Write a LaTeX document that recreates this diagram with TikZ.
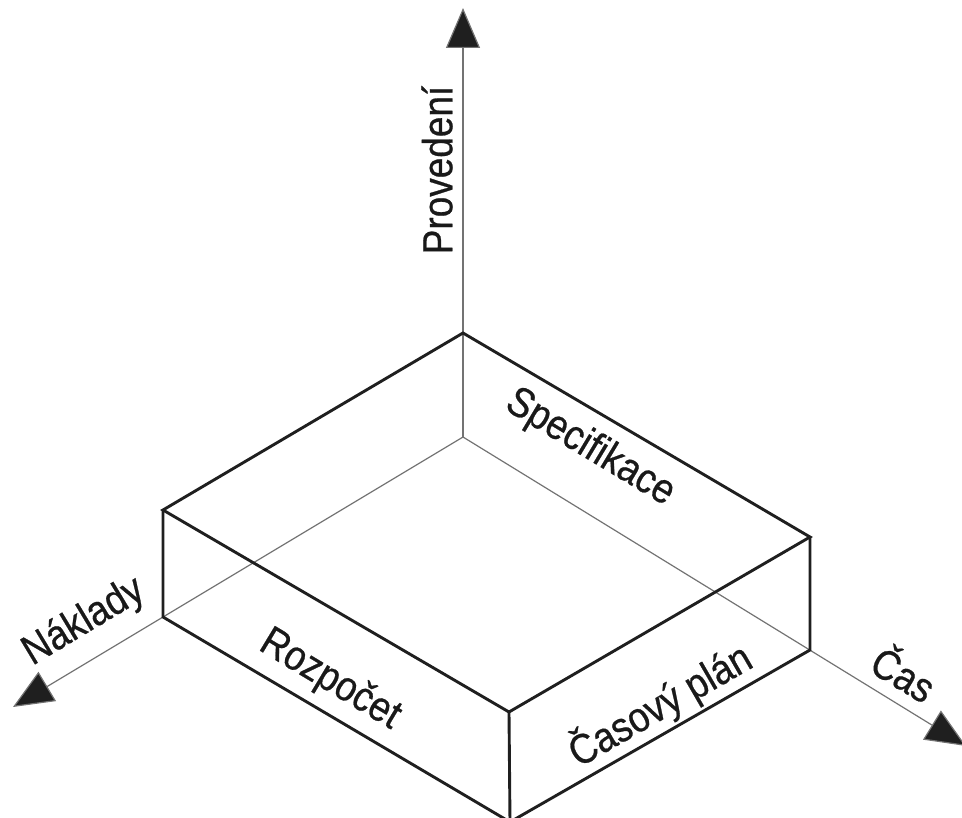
\documentclass[tikz,border=0pt]{standalone}
\usepackage{fontspec}
\setmainfont{Liberation Sans}[FakeStretch=0.88,FakeBold=0.6]
\usetikzlibrary{arrows.meta}
\begin{document}
\begin{tikzpicture}[x=1pt,y=-1pt,
  edge/.style={line width=2.9pt, draw=black!88, line join=miter, line cap=round},
  axis/.style={line width=1.2pt, draw=black!55, -{Triangle[length=40pt,width=34pt,fill=black!88]}},
  lbl/.style={inner sep=0pt, font=\fontsize{42}{42}\selectfont, text=black!90}]
\useasboundingbox (0,0) rectangle (962,818);
\clip (0,0) rectangle (962,818);
% corners
\coordinate (O) at (463,437);
\coordinate (B) at (463,333);
\coordinate (L) at (163,510);
\coordinate (F) at (509,712);
\coordinate (R) at (810,537);
\coordinate (LB) at (163,617);
\coordinate (FB) at (510,822);
\coordinate (RB) at (810,650);
\coordinate (up) at (463,8);
\coordinate (nak) at (13,707);
\coordinate (cas) at (966,746);
% axes
\draw[axis] (O) -- (up);
\draw[axis] (O) -- (nak);
\draw[axis] (O) -- (cas);
% box
\draw[edge] (B) -- (L) -- (F) -- (R) -- cycle;
\draw[edge] (L) -- (LB) -- (FB) -- (RB) -- (R);
\draw[edge] (F) -- (FB);
% labels
\node[lbl, rotate=90] (prov) at (437,170) {Provedení};
\node[lbl, rotate=-31] (spec) at (590,448) {Specifikace};
\node[lbl, rotate=31] (nakl) at (84,622) {Náklady};
\node[lbl, rotate=-31] (rozp) at (330,680) {Rozpočet};
\node[lbl, rotate=30] (casp) at (660,705) {Časový plán};
\node[lbl, rotate=-31] (caslbl) at (905,672) {Čas};
\end{tikzpicture}
\end{document}
